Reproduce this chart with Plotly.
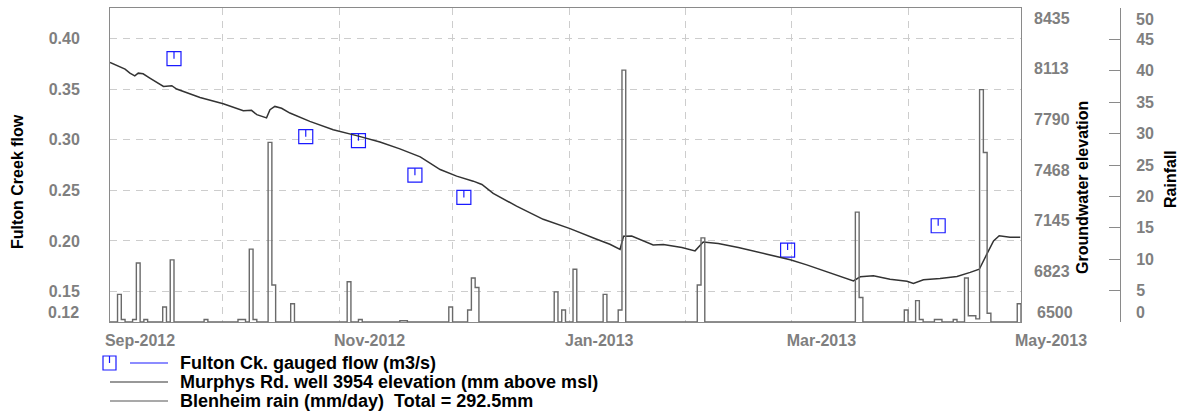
import pandas as pd
import plotly.graph_objects as go

# ---------------- data ----------------
flow_dates = ["2012-09-18", "2012-10-23", "2012-11-06", "2012-11-21",
              "2012-12-04", "2013-02-28", "2013-04-09"]
flow_vals = [0.380, 0.303, 0.299, 0.265, 0.243, 0.191, 0.215]

gw_dates = [
    "2012-09-01 00:00", "2012-09-03 17:00", "2012-09-05 00:00", "2012-09-06 07:00",
    "2012-09-07 14:00", "2012-09-08 12:00", "2012-09-09 19:00", "2012-09-11 14:00",
    "2012-09-15 05:00", "2012-09-17 10:00", "2012-09-18 17:00", "2012-09-24 22:00",
    "2012-10-01 02:00", "2012-10-06 10:00", "2012-10-08 14:00", "2012-10-10 00:00",
    "2012-10-12 14:00", "2012-10-13 12:00", "2012-10-14 19:00", "2012-10-16 14:00",
    "2012-10-18 19:00", "2012-10-24 02:00", "2012-10-30 07:00", "2012-11-05 12:00",
    "2012-11-11 17:00", "2012-11-17 00:00", "2012-11-22 10:00", "2012-11-27 17:00",
    "2012-12-02 02:00", "2012-12-06 12:00", "2012-12-08 19:00", "2012-12-11 19:00",
    "2012-12-18 00:00", "2012-12-25 02:00", "2013-01-01 05:00", "2013-01-08 07:00",
    "2013-01-11 19:00", "2013-01-14 12:00", "2013-01-15 10:00", "2013-01-17 14:00",
    "2013-01-23 07:00", "2013-01-26 00:00", "2013-01-30 22:00", "2013-02-03 10:00",
    "2013-02-05 14:00", "2013-02-09 14:00", "2013-02-14 22:00", "2013-02-22 12:00",
    "2013-02-28 17:00", "2013-03-05 02:00", "2013-03-09 12:00", "2013-03-13 22:00",
    "2013-03-17 12:00", "2013-03-19 07:00", "2013-03-22 19:00", "2013-03-27 05:00",
    "2013-03-31 17:00", "2013-04-02 10:00", "2013-04-05 02:00", "2013-04-09 12:00",
    "2013-04-14 00:00", "2013-04-17 12:00", "2013-04-19 22:00", "2013-04-21 22:00",
    "2013-04-23 17:00", "2013-04-25 05:00", "2013-04-28 02:00", "2013-04-30 19:00",
]
gw_vals = [
    8153, 8127, 8111, 8085, 8068, 8085, 8081, 8054,
    8000, 8005, 7984, 7930, 7890, 7846, 7848, 7821,
    7800, 7852, 7873, 7861, 7831, 7778, 7725, 7687,
    7647, 7603, 7552, 7471, 7429, 7397, 7376, 7319,
    7238, 7154, 7095, 7027, 6995, 6963, 7046, 7048,
    6991, 6993, 6974, 6953, 7010, 7000, 6974, 6932,
    6897, 6864, 6826, 6788, 6762, 6788, 6794, 6773,
    6760, 6746, 6769, 6777, 6790, 6816, 6836, 6932,
    7016, 7049, 7040, 7040,
]

rain_dates = [
    "2012-09-03", "2012-09-04", "2012-09-07", "2012-09-08", "2012-09-10",
    "2012-09-15", "2012-09-17", "2012-09-26", "2012-10-05", "2012-10-06",
    "2012-10-08", "2012-10-09", "2012-10-13", "2012-10-14", "2012-10-19",
    "2012-11-03", "2012-11-06", "2012-11-17", "2012-11-18", "2012-11-30",
    "2012-12-05", "2012-12-06", "2012-12-07", "2012-12-28", "2012-12-30",
    "2013-01-02", "2013-01-10", "2013-01-14", "2013-01-15", "2013-02-04",
    "2013-02-05", "2013-03-18", "2013-03-19", "2013-03-31", "2013-04-03",
    "2013-04-04", "2013-04-08", "2013-04-09", "2013-04-13", "2013-04-16",
    "2013-04-17", "2013-04-18", "2013-04-19", "2013-04-20", "2013-04-21",
    "2013-04-22", "2013-04-30",
]
rain_mm = [
    4.4, 0.4, 0.4, 9.4, 0.4,
    2.4, 9.9, 0.4, 0.4, 0.4,
    11.6, 0.4, 28.6, 5.9, 2.9,
    6.4, 0.4, 0.2, 0.2, 2.4,
    1.9, 7.0, 5.5, 4.8, 1.9,
    8.4, 4.4, 1.9, 40.1, 5.9,
    13.4, 17.5, 3.9, 1.9, 3.4,
    0.4, 0.4, 0.4, 0.4, 7.0,
    1.0, 1.0, 0.5, 37.0, 27.0,
    1.4, 2.9,
]

x_tick_dates = ["2012-09-01", "2012-10-01", "2012-11-01", "2012-12-01", "2013-01-01",
                "2013-02-01", "2013-03-01", "2013-04-01", "2013-05-01"]
x_tick_text = ["Sep-2012", "", "Nov-2012", "", "Jan-2013", "", "Mar-2013", "", "May-2013"]
flow_ticks = [0.12, 0.15, 0.20, 0.25, 0.30, 0.35, 0.40]
flow_tick_text = ["", "0.15", "0.20", "0.25", "0.30", "0.35", "0.40"]
gw_ticks = [6500, 6822.5, 7145, 7467.5, 7790, 8112.5, 8435]
gw_tick_text = ["", "6823", "7145", "7468", "7790", "8113", "8435"]
rain_ticks = [0, 5, 10, 15, 20, 25, 30, 35, 40, 45, 50]
rain_tick_text = ["", "5", "10", "15", "20", "25", "30", "35", "40", "45", ""]

legend_labels = ["Fulton Ck. gauged flow (m3/s)",
                 "Murphys Rd. well 3954 elevation (mm above msl)",
                 "Blenheim rain (mm/day)\u00a0\u00a0Total = 292.5mm"]

# ---------------- layout constants ----------------
W, H = 1183, 414
ML, MR, MT, MB = 110, 63, 8, 92
PW = W - ML - MR          # paper width in px
PH = H - MT - MB          # paper height in px
PLOT_RIGHT = 1021         # right edge of the plot frame (px)
FONT = "Liberation Sans, Arial, sans-serif"
GRAY = "#7f7f7f"
FRAME = "#8a8a8a"
GRID = "#cdcdcd"


def px(xp):
    return (xp - ML) / PW


def py(yp):
    return (MT + PH - yp) / PH


# daily rain series (zero on days without rain)
days = pd.date_range("2012-09-01", "2013-05-01", freq="D")
rain_map = dict(zip(pd.to_datetime(rain_dates), rain_mm))
rain_daily = [rain_map.get(d, 0.0) for d in days]

fig = go.Figure()

fig.add_trace(go.Scatter(
    x=days, y=rain_daily, yaxis="y3", mode="lines", line_shape="hv",
    line=dict(color="#6a6a6a", width=1.4), showlegend=False, hoverinfo="skip"))

fig.add_trace(go.Scatter(
    x=pd.to_datetime(gw_dates), y=gw_vals, yaxis="y2", mode="lines",
    line=dict(color="#333333", width=1.5), showlegend=False))

fig.add_trace(go.Scatter(
    x=pd.to_datetime(flow_dates), y=flow_vals, yaxis="y", mode="markers",
    marker=dict(symbol="square-open", size=14, color="#1a1aff", line=dict(width=1.2)),
    error_y=dict(type="data", symmetric=False, array=[0.0068] * len(flow_vals),
                 arrayminus=[0] * len(flow_vals), width=0, thickness=1.2, color="#1a1aff"),
    showlegend=False))

tickfont = dict(family=FONT, size=16, color=GRAY, weight="bold")

fig.update_layout(
    width=W, height=H, autosize=False,
    margin=dict(l=ML, r=MR, t=MT, b=MB, autoexpand=False),
    paper_bgcolor="white", plot_bgcolor="white",
    showlegend=False,
    font=dict(family=FONT),
    xaxis=dict(
        type="date", domain=[0, (PLOT_RIGHT - ML) / PW], automargin=False,
        range=["2012-09-01", "2013-05-01"],
        tickmode="array", tickvals=x_tick_dates, ticktext=x_tick_text,
        ticks="", tickfont=tickfont, ticklabelshift=30, ticklabelstandoff=4,
        showgrid=True, gridcolor=GRID, gridwidth=1, griddash="7px,6px",
        showline=True, linecolor=FRAME, linewidth=1, mirror=True, zeroline=False,
    ),
    yaxis=dict(
        range=[0.12, 0.43], tickmode="array", tickvals=flow_ticks, ticktext=flow_tick_text,
        ticks="", tickfont=tickfont, ticklabelstandoff=26, automargin=False,
        showgrid=True, gridcolor=GRID, gridwidth=1, griddash="7px,6px",
        showline=True, linecolor=FRAME, linewidth=1, mirror=True, zeroline=False,
    ),
    yaxis2=dict(
        overlaying="y", side="right", anchor="x", automargin=False,
        range=[6500, 8500], tickmode="array", tickvals=gw_ticks, ticktext=gw_tick_text,
        ticks="", tickfont=tickfont, ticklabelstandoff=12,
        showgrid=False, showline=False, zeroline=False,
    ),
    yaxis3=dict(
        overlaying="y", side="right", anchor="free", position=1.0, automargin=False,
        range=[0, 50], tickmode="array", tickvals=rain_ticks, ticktext=rain_tick_text,
        ticks="inside", ticklen=11, tickcolor=FRAME, tickwidth=1,
        tickfont=tickfont, ticklabelstandoff=12,
        showgrid=False, showline=True, linecolor=FRAME, linewidth=1, zeroline=False,
    ),
)

ann = []
titlefont = dict(family=FONT, size=16, color="black", weight="bold")
ann.append(dict(x=px(17), y=py(182), xref="paper", yref="paper", text="Fulton Creek flow",
                textangle=-90, showarrow=False, font=titlefont, xanchor="center", yanchor="middle"))
ann.append(dict(x=px(1082), y=py(188), xref="paper", yref="paper", text="Groundwater elevation",
                textangle=-90, showarrow=False, font=titlefont, xanchor="center", yanchor="middle"))
ann.append(dict(x=px(1170), y=py(179), xref="paper", yref="paper", text="Rainfall",
                textangle=-90, showarrow=False, font=titlefont, xanchor="center", yanchor="middle"))
# edge tick labels (drawn nudged inward as in the original)
ann.append(dict(x=px(81), y=py(312), xref="paper", yref="paper", text="0.12", showarrow=False,
                font=tickfont, xanchor="right", yanchor="middle"))
ann.append(dict(x=px(1035), y=py(312), xref="paper", yref="paper", text="6500", showarrow=False,
                font=tickfont, xanchor="left", yanchor="middle"))
ann.append(dict(x=px(1134), y=py(312), xref="paper", yref="paper", text="0", showarrow=False,
                font=tickfont, xanchor="left", yanchor="middle"))
ann.append(dict(x=px(1134), y=py(19), xref="paper", yref="paper", text="50", showarrow=False,
                font=tickfont, xanchor="left", yanchor="middle"))

# legend (manual)
legfont = dict(family=FONT, size=18, color="black", weight="bold")
rows_y = [363, 382, 401]
for label, ry in zip(legend_labels, rows_y):
    ann.append(dict(x=px(178), y=py(ry), xref="paper", yref="paper", text=label, showarrow=False,
                    font=legfont, xanchor="left", yanchor="middle"))

shapes = [
    dict(type="rect", xref="paper", yref="paper", x0=px(103), x1=px(116), y0=py(370), y1=py(356),
         line=dict(color="#1a1aff", width=1.2)),
    dict(type="line", xref="paper", yref="paper", x0=px(109.5), x1=px(109.5), y0=py(356), y1=py(363),
         line=dict(color="#1a1aff", width=1.2)),
    dict(type="line", xref="paper", yref="paper", x0=px(130), x1=px(168), y0=py(363), y1=py(363),
         line=dict(color="#1a1aff", width=1.2)),
    dict(type="line", xref="paper", yref="paper", x0=px(110), x1=px(168), y0=py(382), y1=py(382),
         line=dict(color="#333333", width=1.2)),
    dict(type="line", xref="paper", yref="paper", x0=px(110), x1=px(168), y0=py(401), y1=py(401),
         line=dict(color="#555555", width=1.2)),
]

fig.update_layout(annotations=ann, shapes=shapes)
fig.write_html(
    "out.html",
    config={"displayModeBar": False, "responsive": False},
    post_script="document.body.style.margin='0px';document.body.style.overflow='hidden';",
)
